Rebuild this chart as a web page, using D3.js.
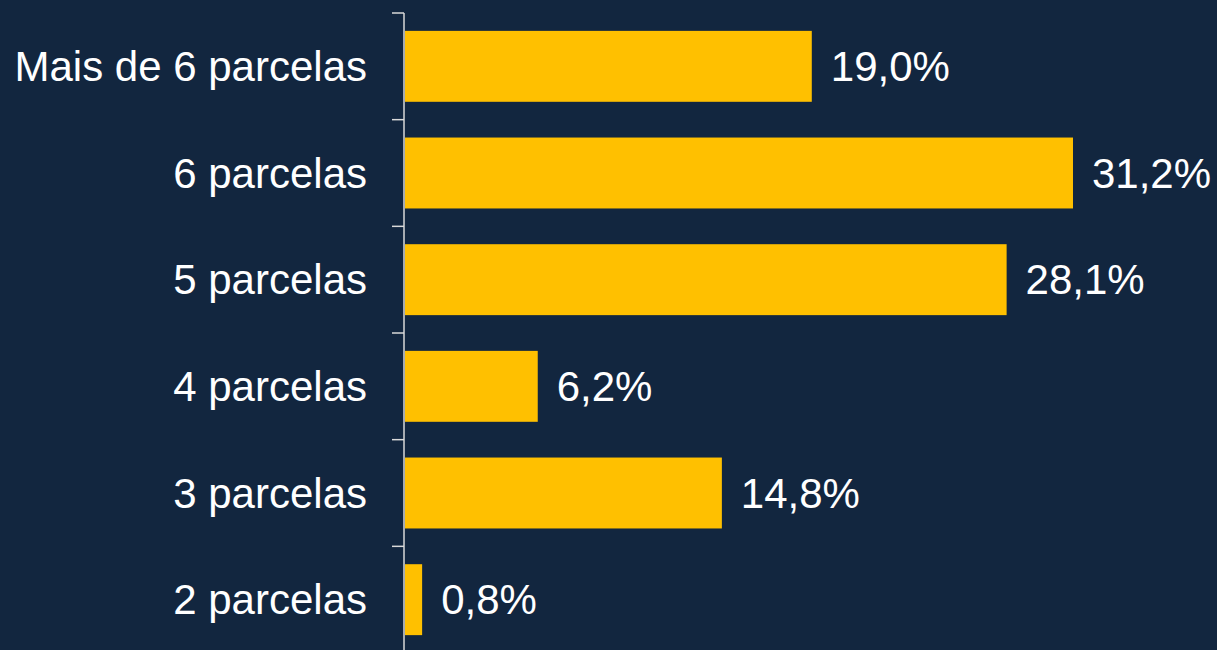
<!DOCTYPE html>
<html><head><meta charset="utf-8">
<script src="https://cdn.jsdelivr.net/npm/d3@7"></script>
<style>html,body{margin:0;padding:0;background:#12263F;overflow:hidden}</style>
</head><body><svg id="c" width="1217" height="650"></svg>
<script>
const categories = ["Mais de 6 parcelas","6 parcelas","5 parcelas","4 parcelas","3 parcelas","2 parcelas"];
const values = [19.0, 31.2, 28.1, 6.2, 14.8, 0.8];
const labels = ["19,0%","31,2%","28,1%","6,2%","14,8%","0,8%"];

const svg = d3.select("#c");
svg.append("rect").attr("width",1217).attr("height",650).attr("fill","#12263F");
const x = d3.scaleLinear().domain([0,35]).range([405, 405 + 21.41*35]);
const y = d3.scaleBand().domain(categories).range([13, 653]).paddingInner(0.335).paddingOuter(0.1675);

svg.selectAll("rect.bar").data(categories).join("rect").attr("class","bar")
  .attr("x", x(0)).attr("y", d=>y(d))
  .attr("width", (d,i)=>x(values[i])-x(0)).attr("height", y.bandwidth())
  .attr("fill","#FFC000");

svg.selectAll("text.val").data(categories).join("text").attr("class","val")
  .attr("x",(d,i)=>x(values[i])+19).attr("y",d=>y(d)+y.bandwidth()/2)
  .attr("dy","0.35em").attr("fill","#fff")
  .attr("font-family","Liberation Sans, Arial, sans-serif").attr("font-size",42)
  .text((d,i)=>labels[i]);

const step = y.step();
const bounds = d3.range(categories.length).map(i=>13 + i*step);
const g = svg.append("g");
g.append("line").attr("x1",404).attr("x2",404).attr("y1",13).attr("y2",653)
  .attr("stroke","#D9D9D9").attr("stroke-width",1.5);
g.selectAll("line.t").data(bounds).join("line").attr("class","t")
  .attr("x1",392).attr("x2",404).attr("y1",d=>d).attr("y2",d=>d)
  .attr("stroke","#D9D9D9").attr("stroke-width",1.5);

svg.selectAll("text.cat").data(categories).join("text").attr("class","cat")
  .attr("x",367).attr("y",d=>y(d)+y.bandwidth()/2).attr("dy","0.35em")
  .attr("text-anchor","end").attr("fill","#fff")
  .attr("font-family","Liberation Sans, Arial, sans-serif").attr("font-size",42)
  .text(d=>d);
</script></body></html>
